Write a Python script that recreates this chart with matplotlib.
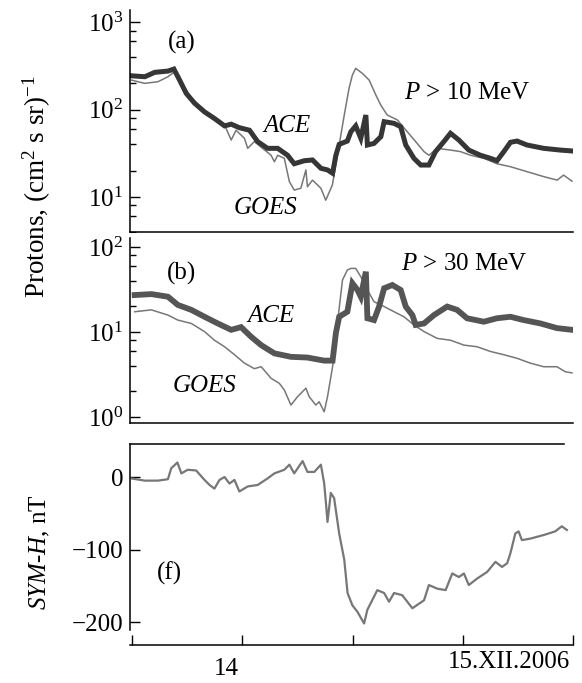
import matplotlib
matplotlib.use("Agg")
import matplotlib.pyplot as plt
from matplotlib.ticker import LogLocator, NullFormatter, FixedLocator

plt.rcParams['font.family'] = ['Liberation Serif', 'DejaVu Serif']
plt.rcParams['mathtext.fontset'] = 'custom'
plt.rcParams['mathtext.rm'] = 'Liberation Serif'
plt.rcParams['mathtext.it'] = 'Liberation Serif:italic'
plt.rcParams['font.size'] = 18

# time in days of December 2006
# (a) P > 10 MeV
ace10_t = [13.496, 13.557, 13.602, 13.662, 13.689, 13.715, 13.745, 13.783, 13.828, 13.873,
           13.919, 13.949, 13.986, 14.032, 14.069, 14.114, 14.160, 14.205, 14.235, 14.281,
           14.318, 14.356, 14.386, 14.409, 14.424, 14.439, 14.476, 14.492, 14.514, 14.537,
           14.560, 14.567, 14.597, 14.628, 14.643, 14.688, 14.718, 14.741, 14.778, 14.809,
           14.846, 14.876, 14.914, 14.944, 14.982, 15.027, 15.080, 15.125, 15.155, 15.186,
           15.216, 15.246, 15.291, 15.367, 15.442, 15.495]
ace10 = [243, 237, 266, 275, 290, 217, 153, 118, 94, 79,
         65, 68, 62, 58, 43, 36, 36, 30, 24, 26,
         26.5, 21.3, 20.4, 18.7, 30, 40, 43.6, 55.7, 65, 46.9,
         86.5, 39.3, 41, 48.9, 72.6, 69.5, 63.6, 39.3, 27.7, 23.2,
         23.2, 33, 43, 53.5, 44.8, 34.4, 30, 27.7, 26, 33,
         42.2, 43.6, 39.3, 36, 34.4, 33.6]

goes10_t = [13.496, 13.557, 13.617, 13.662, 13.692, 13.783, 13.919, 13.949, 13.971, 14.009,
            14.024, 14.054, 14.130, 14.145, 14.160, 14.190, 14.213, 14.235, 14.265, 14.288,
            14.295, 14.318, 14.356, 14.378, 14.408, 14.431, 14.462, 14.484, 14.499, 14.514,
            14.544, 14.575, 14.605, 14.628, 14.657, 14.703, 14.748, 14.786, 14.824, 14.846,
            14.884, 14.944, 14.990, 15.035, 15.095, 15.155, 15.216, 15.291, 15.367, 15.428,
            15.457, 15.495]
goes10 = [217, 199, 208, 237, 270, 118, 66.5, 44.8, 58, 46.9,
          36, 43, 30, 25.3, 30, 27.7, 15, 12, 12.6, 20.4,
          13.1, 15.6, 12.6, 9.2, 13.7, 30, 86.5, 176, 248, 296,
          259, 217, 147, 112, 86.5, 76, 55.7, 43, 33, 30,
          36, 34.4, 33, 30, 27.7, 24, 22.2, 19.5, 17.1, 15.6,
          17.8, 15.2]

# (b) P > 30 MeV
ace30_t = [13.511, 13.587, 13.662, 13.707, 13.768, 13.828, 13.888, 13.949, 13.994, 14.039,
           14.085, 14.145, 14.220, 14.295, 14.371, 14.409, 14.424, 14.439, 14.476, 14.499,
           14.522, 14.537, 14.560, 14.567, 14.597, 14.620, 14.643, 14.680, 14.718, 14.741,
           14.771, 14.786, 14.824, 14.869, 14.929, 14.974, 15.019, 15.095, 15.155, 15.216,
           15.276, 15.352, 15.427, 15.495]
ace30 = [27.2, 27.9, 26, 20.8, 18.2, 15.1, 12.6, 10.6, 11.4, 8.8,
         7.0, 5.6, 5.1, 5.0, 4.6, 4.6, 9.7, 15.1, 17.3, 37.4,
         31.2, 26, 51.2, 14.5, 13.8, 19.9, 32.7, 35.7, 31.2, 19.9,
         15.8, 12.1, 12.6, 15.8, 19.9, 18.2, 14.5, 13.2, 14.5, 15.1,
         13.8, 12.6, 11.1, 10.6]

goes30_t = [13.511, 13.587, 13.662, 13.707, 13.768, 13.828, 13.873, 13.919, 13.964, 14.009,
            14.054, 14.085, 14.130, 14.167, 14.190, 14.220, 14.250, 14.288, 14.303, 14.333,
            14.348, 14.371, 14.386, 14.409, 14.431, 14.454, 14.476, 14.492, 14.514, 14.537,
            14.567, 14.597, 14.643, 14.688, 14.733, 14.778, 14.824, 14.884, 14.944, 15.005,
            15.065, 15.125, 15.186, 15.246, 15.306, 15.367, 15.427, 15.465, 15.495]
goes30 = [17.3, 18.2, 15.8, 13.8, 12.6, 10.1, 8.0, 6.7, 5.4, 4.3,
          3.7, 3.9, 2.85, 2.49, 2.08, 1.38, 1.73, 2.18, 1.73, 1.38,
          1.51, 1.15, 1.73, 3.9, 12.6, 40.9, 53.6, 56, 56, 44.7,
          31.2, 22.7, 19.9, 17.3, 15.1, 12.1, 10.1, 8.4, 8.0, 7.0,
          6.7, 5.9, 5.4, 4.9, 4.3, 3.9, 3.9, 3.4, 3.3]

# (f) SYM-H, nT
symh_t = [13.496, 13.557, 13.617, 13.662, 13.677, 13.705, 13.723, 13.752, 13.790, 13.828,
          13.851, 13.873, 13.896, 13.919, 13.941, 13.964, 13.986, 14.024, 14.069, 14.114,
          14.145, 14.190, 14.213, 14.235, 14.273, 14.295, 14.326, 14.356, 14.371, 14.379,
          14.386, 14.401, 14.416, 14.439, 14.462, 14.477, 14.499, 14.522, 14.552, 14.567,
          14.582, 14.612, 14.643, 14.665, 14.688, 14.725, 14.771, 14.824, 14.846, 14.884,
          14.922, 14.952, 14.982, 15.005, 15.027, 15.065, 15.110, 15.148, 15.178, 15.201,
          15.216, 15.238, 15.253, 15.268, 15.306, 15.367, 15.419, 15.449, 15.472]
symh = [-2, -5, -5, -3, 12, 20, 5, 10, 9, -4,
        -11, -16, -4, 0, -9, -4, -20, -13, -11, -2,
        5, 10, 17, 5, 22, 7, 7, 17, -9, -36,
        -62, -22, -29, -78, -114, -160, -177, -186, -202, -183,
        -174, -156, -160, -172, -160, -163, -181, -170, -149, -154,
        -156, -133, -138, -133, -149, -140, -131, -117, -124, -119,
        -105, -78, -75, -87, -85, -80, -75, -68, -73]

xlim = (13.49, 15.5)

fig = plt.figure(figsize=(5.82, 6.83), dpi=100)
ax1 = fig.add_axes([0.2234, 0.6603, 0.7612, 0.3250])
ax2 = fig.add_axes([0.2234, 0.3807, 0.7612, 0.2782])
ax3 = fig.add_axes([0.2234, 0.0776, 0.7612, 0.2723])

ace_col1 = '#363636'
ace_col2 = '#555555'
thin_col = '#777777'

# panel (a)
ax1.plot(goes10_t, goes10, color=thin_col, lw=1.1)
ax1.plot(ace10_t, ace10, color=ace_col1, lw=3.6, solid_joinstyle='miter')
ax1.set_yscale('log')
ax1.set_ylim(10**0.6, 10**3.137)

# panel (b)
ax2.plot(goes30_t, goes30, color=thin_col, lw=1.1)
ax2.plot(ace30_t, ace30, color=ace_col2, lw=4.2, solid_joinstyle='miter')
ax2.set_yscale('log')
ax2.set_ylim(10**-0.071, 10**2.165)

# panel (f)
ax3.plot(symh_t, symh, color='#777777', lw=1.6)
ax3.set_ylim(-211, 45.5)
ax3.set_yticks([0, -100, -200])

for ax in (ax1, ax2):
    ax.yaxis.set_major_locator(LogLocator(base=10, numticks=10))
    ax.yaxis.set_minor_locator(LogLocator(base=10, subs=(2, 4, 6, 8), numticks=10))
    ax.yaxis.set_minor_formatter(NullFormatter())
    ax.spines['top'].set_visible(False)
    ax.tick_params(bottom=False, labelbottom=False)

for ax in (ax1, ax2, ax3):
    ax.set_xlim(*xlim)
    ax.spines['right'].set_visible(False)
    ax.tick_params(axis='y', which='major', direction='in', length=7, width=1, labelsize=18, pad=5)
    ax.tick_params(axis='y', which='minor', direction='in', length=4.5, width=1)
    for s in ax.spines.values():
        s.set_linewidth(1.1)

ax2.spines['left'].set_bounds(10**-0.071, 10**2.11)

ax3.spines['top'].set_bounds(xlim[0], 15.46)
ax3.spines['bottom'].set_position(('outward', 10.8))
ax3.xaxis.set_major_locator(FixedLocator([13.5, 14.0, 14.5, 15.0, 15.5]))
ax3.tick_params(axis='x', direction='in', length=7, width=1, labelbottom=False)

ax3.text(13.928, -0.21, '14', transform=ax3.get_xaxis_transform(),
         ha='center', va='center', fontsize=18)
ax3.text(15.21, -0.17, '15.XII.2006', transform=ax3.get_xaxis_transform(),
         ha='center', va='center', fontsize=18)

# annotations
ax1.text(0.117, 0.856, '(a)', transform=ax1.transAxes, ha='center', va='center')
ax1.text(0.354, 0.477, 'ACE', style='italic', transform=ax1.transAxes, ha='center', va='center')
ax1.text(0.305, 0.108, 'GOES', style='italic', transform=ax1.transAxes, ha='center', va='center')
ax1.text(0.761, 0.628, r'$P$ > 10 MeV', transform=ax1.transAxes, ha='center', va='center')

ax2.text(0.117, 0.789, '(b)', transform=ax2.transAxes, ha='center', va='center')
ax2.text(0.318, 0.563, 'ACE', style='italic', transform=ax2.transAxes, ha='center', va='center')
ax2.text(0.169, 0.195, 'GOES', style='italic', transform=ax2.transAxes, ha='center', va='center')
ax2.text(0.754, 0.837, r'$P$ > 30 MeV', transform=ax2.transAxes, ha='center', va='center')

ax3.text(0.09, 0.306, '(f)', transform=ax3.transAxes, ha='center', va='center')

fig.text(0.063, 1 - 186 / 683, r'Protons, (cm$^2$ s sr)$^{-1}$', rotation=90,
         ha='center', va='center', fontsize=19.5)
fig.text(0.069, 1 - 552 / 683, r'$SYM$-$H$, nT', rotation=90,
         ha='center', va='center', fontsize=18)

fig.savefig('out.png', dpi=100)
